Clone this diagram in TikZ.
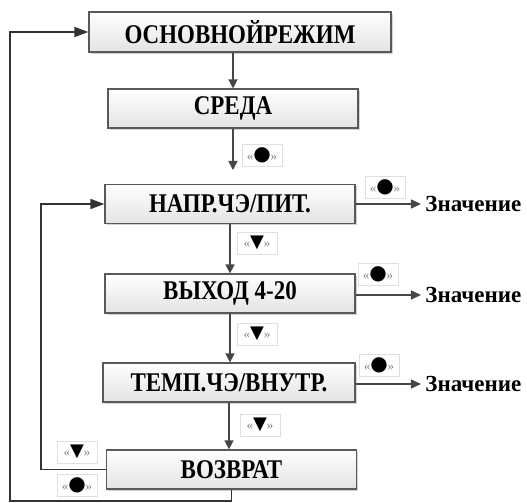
\documentclass[tikz,border=0pt]{standalone}
\usepackage{fontspec}
\setmainfont{Liberation Serif}
\newfontfamily\symfont{DejaVu Sans}
\newfontfamily\boxfont[FakeStretch=0.85]{Liberation Serif}
\usetikzlibrary{arrows.meta,shadows}
\tikzset{
  menubox/.style={draw=gray!70!black, line width=0.6pt, top color=white, bottom color=gray!22,
    drop shadow={shadow xshift=0.8pt,shadow yshift=-0.8pt,opacity=0.35},
    minimum width=125pt, minimum height=19.5pt, inner sep=0pt,
    font=\boxfont\bfseries\fontsize{13.5}{13.5}\selectfont},
  keylbl/.style={draw=gray!25, fill=white, inner sep=0.6pt, minimum width=20pt, minimum height=11pt},
  valtext/.style={anchor=west, inner sep=2pt, font=\bfseries\fontsize{11.5}{11.5}\selectfont},
  downarrow/.style={draw=gray!55!black, line width=0.7pt, -{Triangle[width=4.5pt,length=4.5pt]}},
  sidearrow/.style={draw=gray!55!black, line width=0.7pt, -{Triangle[width=4.5pt,length=5pt]}},
  looparrow/.style={draw=black!80, line width=0.7pt, -{Triangle[width=5pt,length=7pt]}},
}
\newcommand{\keydot}{{\fontsize{6.5}{6.5}\selectfont\color{gray}«}{\symfont\fontsize{10}{10}\selectfont●}{\fontsize{6.5}{6.5}\selectfont\color{gray}»}}
\newcommand{\keydown}{{\fontsize{6.5}{6.5}\selectfont\color{gray}«}{\symfont\fontsize{9}{9}\selectfont▼}{\fontsize{6.5}{6.5}\selectfont\color{gray}»}}

\begin{document}
\begin{tikzpicture}[x=0.5pt,y=-0.5pt]
\useasboundingbox (0,0) rectangle (527,503);
% menu boxes
\node[menubox, minimum width=151pt, minimum height=20pt] (main) at (240,32) {ОСНОВНОЙРЕЖИМ};
\node[menubox] (sreda) at (233,108.5) {СРЕДА};
\node[menubox] (napr) at (230,204) {НАПР.ЧЭ/ПИТ.};
\node[menubox] (vyhod) at (230,293.5) {ВЫХОД 4-20};
\node[menubox, minimum width=126pt] (temp) at (229,382.5) {ТЕМП.ЧЭ/ВНУТР.};
\node[menubox] (vozvrat) at (231.5,469.5) {ВОЗВРАТ};
% values
\node[valtext] (valA) at (421,204) {Значение};
\node[valtext] (valB) at (421,295) {Значение};
\node[valtext] (valC) at (421,384) {Значение};
% loop corners
\coordinate (sredaend) at (233,170);
\coordinate (innerx) at (41,0);
\coordinate (outerx) at (10,0);
\coordinate (outery) at (0,501);
% vertical connectors
\draw[downarrow] (sreda.north |- main.south) -- (sreda.north);
\draw[downarrow] (sreda.south) -- (sredaend);
\draw[downarrow] (napr.south) -- (napr.south |- vyhod.north);
\draw[downarrow] (vyhod.south) -- (vyhod.south |- temp.north);
\draw[downarrow] (temp.south) -- (temp.south |- vozvrat.north);
% value connectors
\draw[sidearrow] (napr.east) -- (valA.west);
\draw[sidearrow] (vyhod.east |- valB.west) -- (valB.west);
\draw[sidearrow] (temp.east |- valC.west) -- (valC.west);
% loops back
\draw[looparrow] (vozvrat.west) -| (innerx |- napr.west) -- (napr.west);
\draw[looparrow] (vozvrat.south) -- (vozvrat.south |- outery) -| (outerx |- main.west) -- (main.west);
% key labels
\node[keylbl] (k1) at (262,155) {\keydot};
\node[keylbl] (r1) at (385,187) {\keydot};
\node[keylbl] (r2) at (378,274) {\keydot};
\node[keylbl] (r3) at (379,365) {\keydot};
\node[keylbl] (d1) at (257,243) {\keydown};
\node[keylbl] (d2) at (257,334) {\keydown};
\node[keylbl] (d3) at (260,425) {\keydown};
\node[keylbl] (d4) at (77,452) {\keydown};
\node[keylbl] (k2) at (77,485) {\keydot};
\end{tikzpicture}
\end{document}
